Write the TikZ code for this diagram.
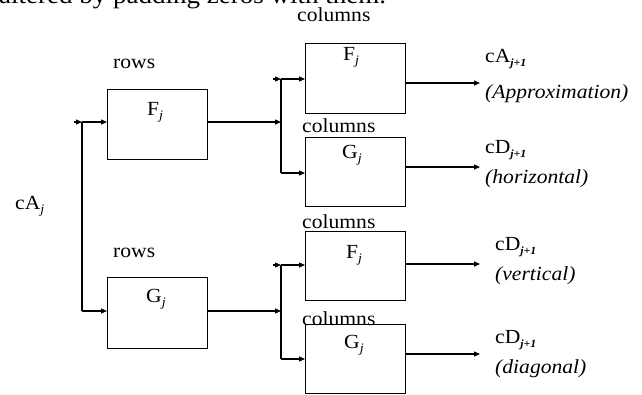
\documentclass[tikz,border=0pt]{standalone}
\usepackage{fontspec}
\setmainfont{Liberation Serif}
\usetikzlibrary{arrows.meta}
\newcommand{\hstr}[1]{\scalebox{1.08}[1]{#1}}
\newcommand{\subj}[1]{\raisebox{-4.5pt}{\fontsize{13}{13}\selectfont\itshape #1}}
\newcommand{\subjj}[1]{\raisebox{-4.5pt}{\fontsize{11}{11}\selectfont\itshape\bfseries #1}}
\begin{document}
\begin{tikzpicture}[x=1pt,y=-1pt,
  box/.style={draw, line width=1.4pt, minimum width=100pt, minimum height=70pt, inner sep=0pt, anchor=north west},
  txt/.style={inner sep=0pt, anchor=base west, font=\fontsize{20}{22}\selectfont},
  wire/.style={line width=1.2pt},
  conn/.style={line width=1.2pt, -{Triangle[length=6pt,width=5pt]}}]
\useasboundingbox (0,0) rectangle (642,394);
\clip (0,0) rectangle (642,394);
% cut-off line of running text
\node[inner sep=0pt, anchor=base west, font=\fontsize{25}{28}\selectfont] (toptext) at (-1,3) {\hstr{altered by padding zeros with them.}};
% boxes
\node[box] (rF) at (107,89) {};
\node[box, minimum height=71pt] (rG) at (107,277) {};
\node[box] (cF1) at (305,43) {};
\node[box, minimum height=69pt] (cG1) at (305,137) {};
\node[box, minimum height=69pt] (cF2) at (305,231) {};
\node[box, minimum height=69pt] (cG2) at (305,324) {};
% box labels
\node[txt] (lrF) at (147,115) {\hstr{F\subj{j}}};
\node[txt] (lrG) at (146,302) {\hstr{G\subj{j}}};
\node[txt] (lcF1) at (343,60) {\hstr{F\subj{j}}};
\node[txt] (lcG1) at (342,158) {\hstr{G\subj{j}}};
\node[txt] (lcF2) at (346,258) {\hstr{F\subj{j}}};
\node[txt] (lcG2) at (344,348) {\hstr{G\subj{j}}};
% rows / columns
\node[txt] (rows1) at (113,68) {\hstr{rows}};
\node[txt] (rows2) at (113,257) {\hstr{rows}};
\node[txt] (col1) at (297,21) {\hstr{columns}};
\node[txt] (col2) at (302,132) {\hstr{columns}};
\node[txt] (col3) at (302,228) {\hstr{columns}};
\node[txt] (col4) at (302,325) {\hstr{columns}};
% input label
\node[txt] (cAj) at (15,209) {\hstr{cA\subj{j}}};
% output labels
\node[txt] (o1a) at (485,62) {\hstr{cA\subjj{j+1}}};
\node[txt] (o1b) at (485,98) {\hstr{\itshape (Approximation)}};
\node[txt] (o2a) at (485,153) {\hstr{cD\subjj{j+1}}};
\node[txt] (o2b) at (485,183) {\hstr{\itshape (horizontal)}};
\node[txt] (o3a) at (495,250) {\hstr{cD\subjj{j+1}}};
\node[txt] (o3b) at (495,280) {\hstr{\itshape (vertical)}};
\node[txt] (o4a) at (495,343) {\hstr{cD\subjj{j+1}}};
\node[txt] (o4b) at (495,373) {\hstr{\itshape (diagonal)}};
% coordinates
\coordinate (in) at (74,122);
\coordinate (j0) at (82,122);
\coordinate (j0b) at (82,311);
\coordinate (k1) at (281,122);
\coordinate (k1t) at (281,79);
\coordinate (k1b) at (281,173);
\coordinate (k1s) at (273,79);
\coordinate (k2) at (281,311);
\coordinate (k2t) at (281,265);
\coordinate (k2b) at (281,359);
\coordinate (k2s) at (273,265);
\coordinate (o1) at (480,83);
\coordinate (o2) at (480,167);
\coordinate (o3) at (480,264);
\coordinate (o4) at (480,354);
% input split
\draw[conn] (in) -- (j0);
\draw[conn] (j0) -- (j0 -| rF.west);
\draw[wire] (j0) -- (j0b);
\draw[conn] (j0b) -- (j0b -| rG.west);
% rows outputs to column splits
\draw[conn] (rF.east |- k1) -- (k1);
\draw[wire] (k1t) -- (k1b);
\draw[conn] (k1s) -- (k1t);
\draw[conn] (k1t) -- (k1t -| cF1.west);
\draw[conn] (k1b) -- (k1b -| cG1.west);
\draw[conn] (rG.east |- k2) -- (k2);
\draw[wire] (k2t) -- (k2b);
\draw[conn] (k2s) -- (k2t);
\draw[conn] (k2t) -- (k2t -| cF2.west);
\draw[conn] (k2b) -- (k2b -| cG2.west);
% outputs
\draw[conn] (cF1.east |- o1) -- (o1);
\draw[conn] (cG1.east |- o2) -- (o2);
\draw[conn] (cF2.east |- o3) -- (o3);
\draw[conn] (cG2.east |- o4) -- (o4);
\end{tikzpicture}
\end{document}
